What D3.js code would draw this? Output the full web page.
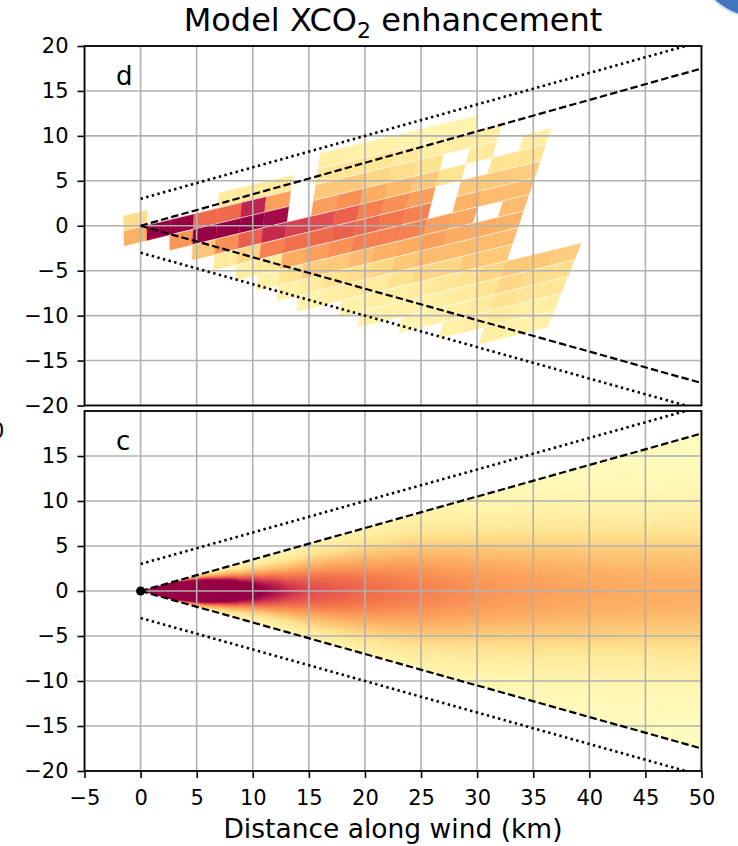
<!DOCTYPE html>
<html>
<head>
<meta charset="utf-8">
<script src="https://cdn.jsdelivr.net/npm/d3@7"></script>
<style>
  body { margin: 0; background: #fff; }
  svg { display: block; font-family: "DejaVu Sans", sans-serif; }
</style>
</head>
<body>
<svg id="chart" width="738" height="846"></svg>
<script>
// ---------------- data ----------------
const xTicks = [-5, 0, 5, 10, 15, 20, 25, 30, 35, 40, 45, 50];
const yTicksTop = [-20, -15, -10, -5, 0, 5, 10, 15, 20];
const yTicksBottom = [-20, -15, -10, -5, 0, 5, 10, 15];

// plume cone: dashed edges y = ±coneSlope·x, dotted edges y = ±(coneOffset + coneSlope·x)
const coneX = [0, 50];
const coneSlope = 0.35;
const coneOffset = 3;

// observed footprints (panel d): one array per footprint row (top row first),
// one entry per along-wind footprint column, null = no sounding
const footprintRows = [1, 0, -1, -2, -3, -4, -5, -6, -7, -8, -9, -10, -11, -12, -13];
const n = null;
const footprintValues = [
  [n, n, n, n, n, n, n, n, .12, .10, .10, .08, .08, .08, n, n, n, n, n, n],
  [.22, n, n, n, .15, .15, .15, n, .18, .18, .18, .15, .12, .12, .12, n, n, n, n, n],
  [.38, 1, 1, .62, .62, .85, .45, n, .30, .30, .25, .22, .20, n, .15, n, .12, n, n, n],
  [n, n, .48, 1, 1, 1, .95, n, .45, .50, .40, .35, .30, .20, n, .20, .20, n, n, n],
  [n, n, n, .30, .50, .65, .82, .75, .72, .65, .55, .50, .45, n, .30, .30, .28, n, n, n],
  [n, n, n, n, .15, .25, .55, .60, .62, .65, .62, .58, .55, n, .38, .35, .35, n, n, n],
  [n, n, n, n, n, .12, .15, .40, .45, .50, .55, .55, .55, .45, .42, n, .35, n, n, n],
  [n, n, n, n, n, n, .10, .20, .28, .30, .35, .38, .40, .45, .40, .40, .38, n, n, n],
  [n, n, n, n, n, n, n, .10, .15, .20, .22, .25, .30, .35, .35, .35, .35, n, n, n],
  [n, n, n, n, n, n, n, n, .08, .12, .15, .15, .20, .25, .25, .30, .30, n, n, n],
  [n, n, n, n, n, n, n, n, n, n, .10, .12, .12, .15, .18, .20, .25, .30, .30, .28],
  [n, n, n, n, n, n, n, n, n, n, n, .08, .10, .10, .12, .15, .20, .25, .22, .22],
  [n, n, n, n, n, n, n, n, n, n, n, n, n, .08, .10, .12, .15, .20, .18, .18],
  [n, n, n, n, n, n, n, n, n, n, n, n, n, n, n, .10, .12, .15, .12, .12],
  [n, n, n, n, n, n, n, n, n, n, n, n, n, n, n, n, n, .12, .10, .10]
];

// modelled plume (panel c): centre-line enhancement and cross-wind spread vs. distance
const plumeDist  = [0, 1, 2, 3, 5, 7, 9, 11, 13, 15, 20, 25, 30, 35, 40, 45, 50];
const plumePeak  = [6, 5.5, 5, 4.4, 3.2, 2.0, 1.3, 1.0, 0.82, 0.72, 0.62, 0.55, 0.49, 0.45, 0.42, 0.40, 0.39];
const plumeSigma = [0.15, 0.3, 0.42, 0.52, 0.77, 1.0, 1.28, 1.6, 2.0, 2.5, 3.5, 4.4, 4.8, 5.1, 5.3, 5.5, 5.7];

// colour map (normalised enhancement -> colour)
const colorStops  = [0, .1, .2, .3, .4, .5, .6, .7, .8, .9, 1];
const colorValues = ["#fffcc0", "#fff1a8", "#fee391", "#fdc878", "#fcad62", "#f99055",
                     "#f2704b", "#e4524f", "#cc304e", "#b0174b", "#980046"];

// ---------------- layout ----------------
const L = 84.5, R = 701.5;
const TOP = { y0: 46, y1: 405.5 };
const BOT = { y0: 411, y1: 771 };

// footprint grid geometry (km): rows tilted, columns fanning slightly
const FOOT = { colStart: -1.5, colWidth: 2.07, rowStart: -0.1, rowHeight: 1.7, slope: 0.3, fan: 0.008 };

const x = d3.scaleLinear().domain([-5, 50]).range([L, R]);
const yTop = d3.scaleLinear().domain([-20, 20]).range([TOP.y1, TOP.y0]);
const yBot = d3.scaleLinear().domain([-20, 20]).range([BOT.y1, BOT.y0]);
const cmap = d3.scaleLinear().domain(colorStops).range(colorValues).interpolate(d3.interpolateRgb).clamp(true);

const fmt = d => d < 0 ? "\u2212" + Math.abs(d) : String(d);
const GRID = "#b0b0b0";

const svg = d3.select("#chart");
const defs = svg.append("defs");
defs.append("clipPath").attr("id", "clipTop").append("rect")
  .attr("x", L).attr("y", TOP.y0).attr("width", R - L).attr("height", TOP.y1 - TOP.y0);
defs.append("clipPath").attr("id", "clipBot").append("rect")
  .attr("x", L).attr("y", BOT.y0).attr("width", R - L).attr("height", BOT.y1 - BOT.y0);

// ---------------- panel d: footprints ----------------
function corner(k, m) {
  const c = FOOT.colStart + FOOT.colWidth * m;
  const b = FOOT.rowStart + FOOT.rowHeight * k;
  const yy = (FOOT.slope * c + b) / (1 - FOOT.slope * c * FOOT.fan);
  return [c * (1 + FOOT.fan * yy), yy];
}
const cells = [];
footprintRows.forEach((k, ri) => {
  footprintValues[ri].forEach((v, m) => {
    if (v === null) return;
    cells.push({ v, pts: [corner(k, m), corner(k, m + 1), corner(k + 1, m + 1), corner(k + 1, m)] });
  });
});
const gTopData = svg.append("g").attr("clip-path", "url(#clipTop)");
const poly = d3.line().x(d => x(d[0])).y(d => yTop(d[1]));
gTopData.selectAll("path.cell").data(cells).join("path")
  .attr("class", "cell")
  .attr("d", d => poly(d.pts) + "Z")
  .attr("fill", d => cmap(d.v))
  .attr("stroke", d => cmap(d.v))
  .attr("stroke-width", 0.3);
gTopData.selectAll("path.seam").data(cells).join("path")
  .attr("class", "seam")
  .attr("d", d => poly([d.pts[2], d.pts[3]]))
  .attr("stroke", "#fff").attr("stroke-opacity", 0.85).attr("stroke-width", 0.8).attr("fill", "none");

// ---------------- panel c: modelled field ----------------
const peakAt = d3.scaleLinear().domain(plumeDist).range(plumePeak).clamp(true);
const sigmaAt = d3.scaleLinear().domain(plumeDist).range(plumeSigma).clamp(true);
const fx0 = Math.floor(x(0)), fx1 = Math.ceil(x(50));
const fw = fx1 - fx0, fh = BOT.y1 - BOT.y0;
const canvas = document.createElement("canvas");
canvas.width = fw; canvas.height = fh;
const ctx = canvas.getContext("2d");
const img = ctx.createImageData(fw, fh);
const lut = d3.range(256).map(i => d3.rgb(cmap(i / 255)));
for (let i = 0; i < fw; i++) {
  const xk = Math.max(0, x.invert(fx0 + i + 0.5));
  const p = peakAt(xk), s = sigmaAt(xk);
  for (let j = 0; j < fh; j++) {
    const yk = yBot.invert(BOT.y0 + j + 0.5);
    const v = Math.min(1, p * Math.exp(-yk * yk / (2 * s * s)));
    const c = lut[Math.round(v * 255)];
    const o = (j * fw + i) * 4;
    img.data[o] = c.r; img.data[o + 1] = c.g; img.data[o + 2] = c.b; img.data[o + 3] = 255;
  }
}
ctx.putImageData(img, 0, 0);
const conePts = [[coneX[0], 0], [coneX[1], coneSlope * coneX[1]], [coneX[1], -coneSlope * coneX[1]]];
defs.append("clipPath").attr("id", "clipCone").append("path")
  .attr("d", d3.line().x(d => x(d[0])).y(d => yBot(d[1]))(conePts) + "Z");
svg.append("g").attr("clip-path", "url(#clipBot)")
  .append("image")
  .attr("href", canvas.toDataURL())
  .attr("x", fx0).attr("y", BOT.y0).attr("width", fw).attr("height", fh)
  .attr("preserveAspectRatio", "none")
  .attr("clip-path", "url(#clipCone)");

// ---------------- frames, grids, cone lines, axes ----------------
function frame(yS, yTicks, box, clipId, withDot, showX) {
  const g = svg.append("g");
  const gg = g.append("g").attr("clip-path", `url(#${clipId})`);
  gg.selectAll("line.gx").data(xTicks).join("line")
    .attr("x1", d => x(d)).attr("x2", d => x(d)).attr("y1", box.y0).attr("y2", box.y1)
    .attr("stroke", GRID).attr("stroke-width", 1.6);
  gg.selectAll("line.gy").data(yTicks).join("line")
    .attr("x1", L).attr("x2", R).attr("y1", d => yS(d)).attr("y2", d => yS(d))
    .attr("stroke", GRID).attr("stroke-width", 1.6);

  const ln = d3.line().x(d => x(d[0])).y(d => yS(d[1]));
  [1, -1].forEach(sgn => {
    gg.append("path").attr("d", ln(coneX.map(v => [v, sgn * coneSlope * v])))
      .attr("fill", "none").attr("stroke", "#000").attr("stroke-width", 2.2)
      .attr("stroke-dasharray", "7.4,3.2");
    gg.append("path").attr("d", ln(coneX.map(v => [v, sgn * (coneOffset + coneSlope * v)])))
      .attr("fill", "none").attr("stroke", "#000").attr("stroke-width", 2.6)
      .attr("stroke-dasharray", "2.4,3.4");
  });
  if (withDot) {
    gg.append("circle").attr("cx", x(0)).attr("cy", yS(0)).attr("r", 4.5).attr("fill", "#000");
  }

  const ay = g.append("g").attr("transform", `translate(${L},0)`)
    .call(d3.axisLeft(yS).tickValues(yTicks).tickSize(7).tickPadding(9).tickFormat(fmt));
  ay.select(".domain").remove();
  ay.selectAll("line").attr("stroke", "#000").attr("stroke-width", 1.6);
  ay.selectAll("text").attr("font-size", 21).attr("font-family", "DejaVu Sans").attr("fill", "#000");

  if (showX) {
    const ax = g.append("g").attr("transform", `translate(0,${box.y1})`)
      .call(d3.axisBottom(x).tickValues(xTicks).tickSize(7).tickPadding(12).tickFormat(fmt));
    ax.select(".domain").remove();
    ax.selectAll("line").attr("stroke", "#000").attr("stroke-width", 1.6);
    ax.selectAll("text").attr("font-size", 21).attr("font-family", "DejaVu Sans").attr("fill", "#000");
  }

  g.append("rect").attr("x", L).attr("y", box.y0).attr("width", R - L).attr("height", box.y1 - box.y0)
    .attr("fill", "none").attr("stroke", "#000").attr("stroke-width", 1.8);
}
frame(yTop, yTicksTop, TOP, "clipTop", false, false);
frame(yBot, yTicksBottom, BOT, "clipBot", true, true);

// panel letters
svg.append("text").attr("x", 116).attr("y", 85).attr("font-size", 26).text("d");
svg.append("text").attr("x", 116).attr("y", 450).attr("font-size", 26).text("c");

// title
const title = svg.append("text").attr("x", (L + R) / 2).attr("y", 31)
  .attr("text-anchor", "middle").attr("font-size", 32);
title.append("tspan").text("Model XCO");
title.append("tspan").attr("font-size", 22).attr("dy", 7).text("2");
title.append("tspan").attr("dy", -7).text(" enhancement");

// x label
svg.append("text").attr("x", (L + R) / 2).attr("y", 838).attr("text-anchor", "middle")
  .attr("font-size", 26.5).text("Distance along wind (km)");

// neighbouring panel fragments at the page edges
svg.append("text").attr("x", -9).attr("y", 438).attr("font-size", 21).text("0");
svg.append("circle").attr("cx", 760).attr("cy", -50).attr("r", 68)
  .attr("fill", "#3f76bd").attr("stroke", "#cfe0f0").attr("stroke-width", 2);
</script>
</body>
</html>
